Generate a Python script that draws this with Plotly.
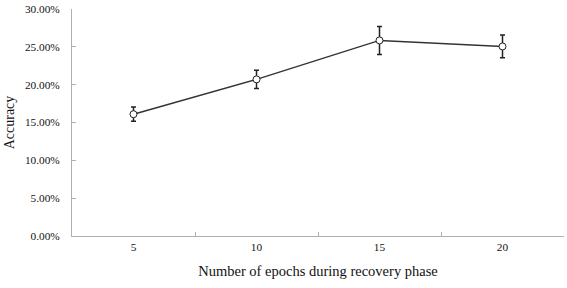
import plotly.graph_objects as go

epochs = ["5", "10", "15", "20"]
accuracy = [16.1, 20.7, 25.85, 25.05]
err = [0.95, 1.2, 1.85, 1.5]
y_ticks = [0, 5, 10, 15, 20, 25, 30]
y_tick_text = [f"{v:.2f}%" for v in y_ticks]

FONT = "Liberation Serif"

fig = go.Figure(go.Scatter(
    x=epochs, y=accuracy,
    mode="lines+markers",
    line=dict(color="#333333", width=1.5),
    marker=dict(symbol="circle", size=7, color="white",
                line=dict(color="#222222", width=1)),
    error_y=dict(type="data", array=err, visible=True,
                 color="#222222", thickness=1.5, width=2.5),
    showlegend=False,
))

fig.update_layout(
    width=567, height=288,
    margin=dict(l=72, r=3, t=9, b=52),
    paper_bgcolor="white", plot_bgcolor="white",
    font=dict(family=FONT, size=11.3, color="#111111"),
)
fig.update_xaxes(
    type="category", range=[-0.5, 3.5], automargin=False,
    showline=True, linecolor="#b0b0b0", linewidth=1,
    ticks="inside", tickson="boundaries", ticklen=4, tickcolor="#b0b0b0",
    showgrid=False, zeroline=False,
    title=dict(text="Number of epochs during recovery phase",
               font=dict(family=FONT, size=14.5), standoff=14),
)
fig.update_yaxes(
    range=[0, 30], tickvals=y_ticks, ticktext=y_tick_text, automargin=False,
    showline=True, linecolor="#b0b0b0", linewidth=1,
    ticks="inside", ticklen=4, tickcolor="#b0b0b0",
    showgrid=False, zeroline=False,
    ticklabelstandoff=9,
    title=dict(text="Accuracy", font=dict(family=FONT, size=14), standoff=6),
)

fig.write_html("out.html",
               config={"displayModeBar": False},
               post_script="document.body.style.margin='0';document.body.style.overflow='hidden';")
